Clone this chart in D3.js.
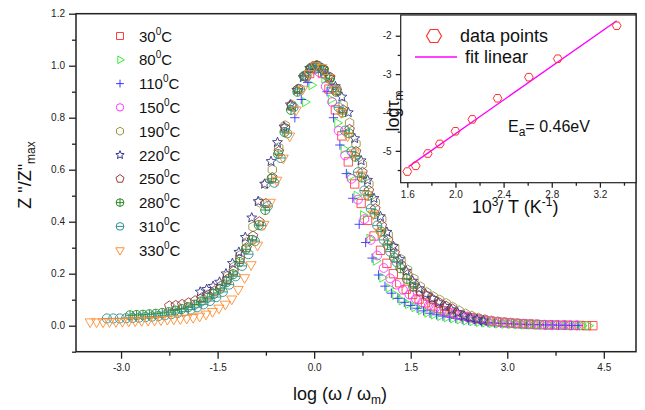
<!DOCTYPE html>
<html>
<head>
<meta charset="utf-8">
<script src="https://cdn.jsdelivr.net/npm/d3@7"></script>
<style>
  body { margin: 0; background: #fff; }
  svg { font-family: "Liberation Sans", Arial, sans-serif; }
</style>
</head>
<body>
<svg id="chart" width="645" height="410"></svg>
<script>
// legend labels (temperature in degC)
const temps = ['30', '80', '110', '150', '190', '220', '250', '280', '310', '330'];

// Z''/Z''max vs log(w/wm), one array per temperature: [x, y]
const s30 = [[-0.07,0.97],[0.03,1.0],[0.13,0.97],[0.23,0.91],[0.33,0.83],[0.43,0.73],[0.53,0.63],[0.63,0.545],[0.73,0.47],[0.83,0.405],[0.93,0.345],[1.03,0.29],[1.13,0.24],[1.23,0.2],[1.33,0.165],[1.43,0.14],[1.53,0.12],[1.63,0.102],[1.73,0.088],[1.83,0.076],[1.93,0.066],[2.03,0.057],[2.13,0.049],[2.23,0.042],[2.33,0.036],[2.43,0.031],[2.53,0.026],[2.63,0.022],[2.73,0.018],[2.83,0.015],[2.93,0.013],[3.03,0.011],[3.13,0.009],[3.23,0.008],[3.33,0.006],[3.43,0.005],[3.53,0.004],[3.63,0.003],[3.73,0.003],[3.83,0.002],[3.93,0.002],[4.03,0.001],[4.13,0.001],[4.23,0.0],[4.33,0.0]];
const s80 = [[-0.14,0.86],[-0.04,0.925],[0.06,0.985],[0.16,0.95],[0.26,0.87],[0.36,0.78],[0.46,0.68],[0.56,0.575],[0.66,0.5],[0.76,0.425],[0.86,0.335],[0.96,0.25],[1.06,0.185],[1.16,0.145],[1.26,0.118],[1.36,0.097],[1.46,0.083],[1.56,0.071],[1.66,0.06],[1.76,0.05],[1.86,0.043],[1.96,0.037],[2.06,0.032],[2.16,0.028],[2.26,0.024],[2.36,0.02],[2.46,0.017],[2.56,0.014],[2.66,0.012],[2.76,0.01],[2.86,0.008],[2.96,0.007],[3.06,0.006],[3.16,0.005],[3.26,0.004],[3.36,0.004],[3.46,0.003],[3.56,0.003],[3.66,0.002],[3.76,0.002],[3.86,0.001],[3.96,0.001],[4.06,0.001],[4.16,0.0],[4.26,0.0]];
const s110 = [[-0.3,0.8],[-0.2,0.87],[-0.1,0.935],[0.0,0.985],[0.1,0.975],[0.2,0.9],[0.3,0.8],[0.4,0.695],[0.5,0.585],[0.6,0.49],[0.7,0.39],[0.8,0.32],[0.9,0.26],[1.0,0.195],[1.1,0.152],[1.2,0.125],[1.3,0.105],[1.4,0.09],[1.5,0.078],[1.6,0.067],[1.7,0.057],[1.8,0.048],[1.9,0.042],[2.0,0.037],[2.1,0.033],[2.2,0.028],[2.3,0.024],[2.4,0.02],[2.5,0.017],[2.6,0.014],[2.7,0.012],[2.8,0.01],[2.9,0.009],[3.0,0.008],[3.1,0.007],[3.2,0.006],[3.3,0.005],[3.4,0.004],[3.5,0.004],[3.6,0.003],[3.7,0.003],[3.8,0.002],[3.9,0.002],[4.0,0.001],[4.1,0.001]];
const s150 = [[-0.12,0.955],[-0.02,0.99],[0.08,0.975],[0.18,0.92],[0.28,0.86],[0.38,0.75],[0.48,0.655],[0.58,0.565],[0.68,0.485],[0.78,0.41],[0.88,0.33],[0.98,0.27],[1.08,0.222],[1.18,0.182],[1.28,0.158],[1.38,0.138],[1.48,0.12],[1.58,0.104],[1.68,0.09],[1.78,0.078],[1.88,0.069],[1.98,0.06],[2.08,0.052],[2.18,0.045],[2.28,0.039],[2.38,0.033],[2.48,0.028],[2.58,0.024],[2.68,0.02],[2.78,0.017],[2.88,0.014],[2.98,0.012],[3.08,0.01],[3.18,0.008],[3.28,0.007],[3.38,0.006],[3.48,0.005],[3.58,0.004],[3.68,0.003],[3.78,0.002],[3.88,0.002],[3.98,0.001],[4.08,0.001]];
const s190 = [[-1.35,0.19],[-1.25,0.225],[-1.15,0.27],[-1.05,0.32],[-0.95,0.38],[-0.85,0.475],[-0.75,0.545],[-0.65,0.6],[-0.55,0.685],[-0.45,0.77],[-0.35,0.85],[-0.25,0.91],[-0.15,0.96],[-0.05,0.99],[0.05,1.0],[0.15,0.985],[0.25,0.955],[0.35,0.91],[0.45,0.85],[0.55,0.78],[0.65,0.7],[0.75,0.62],[0.85,0.545],[0.95,0.475],[1.05,0.41],[1.15,0.35],[1.25,0.3],[1.35,0.255],[1.45,0.215],[1.55,0.18],[1.65,0.15],[1.75,0.128],[1.85,0.112],[1.95,0.099],[2.05,0.086],[2.15,0.072],[2.25,0.058],[2.35,0.046],[2.45,0.037],[2.55,0.03],[2.65,0.024],[2.75,0.019],[2.85,0.016],[2.95,0.013],[3.05,0.011],[3.15,0.009],[3.25,0.007],[3.35,0.006],[3.45,0.005]];
const s220 = [[-1.77,0.13],[-1.67,0.14],[-1.57,0.152],[-1.47,0.168],[-1.37,0.2],[-1.27,0.24],[-1.17,0.283],[-1.07,0.34],[-0.97,0.415],[-0.87,0.478],[-0.77,0.545],[-0.67,0.632],[-0.57,0.705],[-0.47,0.765],[-0.37,0.85],[-0.27,0.906],[-0.17,0.955],[-0.07,0.99],[0.03,1.0],[0.13,0.99],[0.23,0.955],[0.33,0.92],[0.43,0.88],[0.53,0.82],[0.63,0.72],[0.73,0.635],[0.83,0.56],[0.93,0.49],[1.03,0.42],[1.13,0.36],[1.23,0.305],[1.33,0.255],[1.43,0.21],[1.53,0.172],[1.63,0.143],[1.73,0.122],[1.83,0.105],[1.93,0.089],[2.03,0.075],[2.13,0.062],[2.23,0.05],[2.33,0.038],[2.43,0.03],[2.53,0.024],[2.63,0.019]];
const s250 = [[-2.25,0.076],[-2.15,0.078],[-2.05,0.082],[-1.95,0.088],[-1.85,0.096],[-1.75,0.106],[-1.65,0.118],[-1.55,0.133],[-1.45,0.152],[-1.35,0.178],[-1.25,0.21],[-1.15,0.255],[-1.05,0.3],[-0.95,0.345],[-0.85,0.4],[-0.75,0.47],[-0.65,0.57],[-0.55,0.67],[-0.45,0.76],[-0.35,0.845],[-0.25,0.91],[-0.15,0.96],[-0.05,0.99],[0.05,1.0],[0.15,0.985],[0.25,0.955],[0.35,0.905],[0.45,0.83],[0.55,0.755],[0.65,0.67],[0.75,0.59],[0.85,0.52],[0.95,0.45],[1.05,0.385],[1.15,0.33],[1.25,0.28],[1.35,0.235],[1.45,0.195],[1.55,0.16],[1.65,0.13],[1.75,0.114],[1.85,0.1],[1.95,0.087],[2.05,0.075],[2.15,0.064]];
const s280 = [[-2.86,0.04],[-2.76,0.041],[-2.66,0.042],[-2.56,0.044],[-2.46,0.046],[-2.36,0.049],[-2.26,0.052],[-2.16,0.058],[-2.06,0.064],[-1.96,0.071],[-1.86,0.081],[-1.76,0.093],[-1.66,0.107],[-1.56,0.122],[-1.46,0.142],[-1.36,0.168],[-1.26,0.198],[-1.16,0.245],[-1.06,0.294],[-0.96,0.33],[-0.86,0.387],[-0.76,0.445],[-0.66,0.565],[-0.56,0.66],[-0.46,0.745],[-0.36,0.83],[-0.26,0.9],[-0.16,0.96],[-0.06,0.99],[0.04,1.0],[0.14,0.985],[0.24,0.95],[0.34,0.9],[0.44,0.82],[0.54,0.74],[0.64,0.65],[0.74,0.57],[0.84,0.5],[0.94,0.43],[1.04,0.362],[1.14,0.31],[1.24,0.262],[1.34,0.221],[1.44,0.18],[1.54,0.15]];
const s310 = [[-3.22,0.028],[-3.12,0.028],[-3.02,0.028],[-2.92,0.029],[-2.82,0.03],[-2.72,0.031],[-2.62,0.033],[-2.52,0.035],[-2.42,0.037],[-2.32,0.04],[-2.22,0.044],[-2.12,0.049],[-2.02,0.055],[-1.92,0.062],[-1.82,0.071],[-1.72,0.082],[-1.62,0.095],[-1.52,0.11],[-1.42,0.13],[-1.32,0.158],[-1.22,0.19],[-1.12,0.23],[-1.02,0.275],[-0.92,0.325],[-0.82,0.385],[-0.72,0.46],[-0.62,0.55],[-0.52,0.645],[-0.42,0.74],[-0.32,0.84],[-0.22,0.91],[-0.12,0.96],[-0.02,0.995],[0.08,0.995],[0.18,0.965],[0.28,0.915],[0.38,0.84],[0.48,0.75],[0.58,0.67],[0.68,0.59],[0.78,0.52],[0.88,0.45],[0.98,0.385],[1.08,0.33],[1.18,0.285],[1.28,0.245]];
const s330 = [[-3.48,0.015],[-3.38,0.015],[-3.28,0.015],[-3.18,0.016],[-3.08,0.016],[-2.98,0.017],[-2.88,0.018],[-2.78,0.019],[-2.68,0.02],[-2.58,0.021],[-2.48,0.022],[-2.38,0.023],[-2.28,0.025],[-2.18,0.026],[-2.08,0.027],[-1.98,0.029],[-1.88,0.032],[-1.78,0.037],[-1.68,0.045],[-1.58,0.055],[-1.48,0.068],[-1.38,0.083],[-1.28,0.103],[-1.18,0.14],[-1.08,0.185],[-0.98,0.235],[-0.88,0.31],[-0.78,0.39],[-0.68,0.475],[-0.58,0.56],[-0.48,0.645],[-0.38,0.73],[-0.28,0.83],[-0.18,0.91],[-0.08,0.97],[0.02,1.0],[0.12,0.993],[0.22,0.955],[0.32,0.91],[0.42,0.82],[0.52,0.73],[0.62,0.665],[0.72,0.58],[0.82,0.505],[0.92,0.43],[1.02,0.36]];

// inset: log(tau_m) vs 1000/T
const invT = [1.60, 1.67, 1.77, 1.87, 2.00, 2.14, 2.35, 2.61, 2.85, 3.34];
const logTau = [-5.54, -5.39, -5.07, -4.82, -4.49, -4.18, -3.63, -3.08, -2.60, -1.74];
const fitX = [1.61, 3.34];
const fitY = [-5.41, -1.61];

const xTicks = [-3.0, -1.5, 0.0, 1.5, 3.0, 4.5];
const xMinor = [-2.25, -0.75, 0.75, 2.25, 3.75];
const yTicks = [0.0, 0.2, 0.4, 0.6, 0.8, 1.0, 1.2];
const yMinor = [-0.1, 0.1, 0.3, 0.5, 0.7, 0.9, 1.1];
const inXTicks = [1.6, 2.0, 2.4, 2.8, 3.2];
const inXMinor = [1.8, 2.2, 2.6, 3.0, 3.4];
const inYTicks = [-5, -4, -3, -2];
const inYMinor = [-5.5, -4.5, -3.5, -2.5];

// custom open symbols, size = r^2
function poly(n, start, radii) {
  return {
    draw(ctx, size) {
      const r = Math.sqrt(size);
      for (let i = 0; i < n; i++) {
        const a = start + (i * 2 * Math.PI) / n;
        const rr = r * radii[i % radii.length];
        const px = rr * Math.cos(a), py = rr * Math.sin(a);
        if (i === 0) ctx.moveTo(px, py); else ctx.lineTo(px, py);
      }
      ctx.closePath();
    }
  };
}
const symSquare = { draw(ctx, size) { const a = Math.sqrt(size) * 0.8; ctx.rect(-a, -a, 2 * a, 2 * a); } };
const symCircle = { draw(ctx, size) { const r = Math.sqrt(size) * 0.85; ctx.moveTo(r, 0); ctx.arc(0, 0, r, 0, 2 * Math.PI); } };
const symPlus = { draw(ctx, size) { const a = Math.sqrt(size) * 0.9; ctx.moveTo(-a, 0); ctx.lineTo(a, 0); ctx.moveTo(0, -a); ctx.lineTo(0, a); } };
const symCirclePlus = { draw(ctx, size) { const r = Math.sqrt(size) * 0.88; ctx.moveTo(r, 0); ctx.arc(0, 0, r, 0, 2 * Math.PI); ctx.moveTo(-r, 0); ctx.lineTo(r, 0); ctx.moveTo(0, -r); ctx.lineTo(0, r); } };
const symCircleMinus = { draw(ctx, size) { const r = Math.sqrt(size) * 0.88; ctx.moveTo(r, 0); ctx.arc(0, 0, r, 0, 2 * Math.PI); ctx.moveTo(-r, 0); ctx.lineTo(r, 0); } };
const symTriRight = poly(3, 0, [1.0]);
const symTriDown = poly(3, Math.PI / 2, [1.12]);
const symHexagon = poly(6, -Math.PI / 2, [0.93]);
const symPentagon = poly(5, -Math.PI / 2, [0.97]);
const symStar = poly(10, -Math.PI / 2, [1.0, 0.45]);
const symHexFlat = poly(6, 0, [1.0]);

const series = [
  { data: s30, color: '#ff4040', type: symSquare },
  { data: s80, color: '#30ee30', type: symTriRight },
  { data: s110, color: '#3535ff', type: symPlus },
  { data: s150, color: '#ff35ff', type: symCircle },
  { data: s190, color: '#969640', type: symHexagon },
  { data: s220, color: '#33338f', type: symStar },
  { data: s250, color: '#9a3a3a', type: symPentagon },
  { data: s280, color: '#2a8a2a', type: symCirclePlus },
  { data: s310, color: '#2f9090', type: symCircleMinus },
  { data: s330, color: '#ff8c30', type: symTriDown },
];

const svg = d3.select('#chart');
const ink = '#222';

const xMain = d3.scaleLinear().domain([-3.7, 5.0]).range([76, 636]);
const yMain = d3.scaleLinear().domain([-0.1, 1.2]).range([351.7, 13.7]);

function styleAxis(g) {
  g.select('.domain').remove();
  g.selectAll('.tick line').attr('stroke', ink).attr('stroke-width', 1.3);
  g.selectAll('.tick text').attr('fill', '#222');
}

// main axes
svg.append('g')
  .attr('transform', `translate(0,${yMain.range()[0]})`)
  .attr('font-size', 13)
  .call(d3.axisBottom(xMain).tickValues(xTicks).tickSize(7).tickPadding(5).tickFormat((d) => d.toFixed(1)))
  .call(styleAxis);
svg.append('g')
  .attr('transform', `translate(0,${yMain.range()[0]})`)
  .call(d3.axisBottom(xMain).tickValues(xMinor).tickSize(4).tickFormat(''))
  .call(styleAxis);
svg.append('g')
  .attr('transform', `translate(${xMain.range()[0]},0)`)
  .attr('font-size', 13)
  .call(d3.axisLeft(yMain).tickValues(yTicks).tickSize(7).tickPadding(4).tickFormat((d) => d.toFixed(1)))
  .call(styleAxis);
svg.append('g')
  .attr('transform', `translate(${xMain.range()[0]},0)`)
  .call(d3.axisLeft(yMain).tickValues(yMinor).tickSize(4).tickFormat(''))
  .call(styleAxis);

// data
const symbol = d3.symbol();
series.forEach((s) => {
  svg.append('g')
    .selectAll('path')
    .data(s.data)
    .join('path')
    .attr('transform', (d) => `translate(${xMain(d[0])},${yMain(d[1])})`)
    .attr('d', symbol.type(s.type).size(27)())
    .attr('fill', 'none')
    .attr('stroke', s.color)
    .attr('stroke-width', 0.9);
});

svg.append('rect')
  .attr('x', xMain.range()[0]).attr('y', yMain.range()[1])
  .attr('width', xMain.range()[1] - xMain.range()[0])
  .attr('height', yMain.range()[0] - yMain.range()[1])
  .attr('fill', 'none').attr('stroke', ink).attr('stroke-width', 1.5);

// legend
const legend = svg.append('g');
series.forEach((s, i) => {
  const ly = 36 + i * 23.8;
  legend.append('path')
    .attr('transform', `translate(120,${ly})`)
    .attr('d', d3.symbol().type(s.type).size(19)())
    .attr('fill', 'none').attr('stroke', s.color).attr('stroke-width', 1);
  const t = legend.append('text').attr('x', 139).attr('y', ly + 5.5).attr('font-size', 15).attr('fill', '#111');
  t.append('tspan').text(temps[i]);
  t.append('tspan').attr('font-size', 10).attr('dy', -7).text('0');
  t.append('tspan').attr('dy', 7).text('C');
});

// axis titles
const xt = svg.append('text').attr('x', 340).attr('y', 400).attr('text-anchor', 'middle').attr('font-size', 18).attr('fill', '#111');
xt.append('tspan').text('log (\u03c9 / \u03c9');
xt.append('tspan').attr('font-size', 12).attr('dy', 4).text('m');
xt.append('tspan').attr('dy', -4).text(')');

const yt = svg.append('text').attr('transform', 'translate(31,175) rotate(-90)').attr('text-anchor', 'middle').attr('font-size', 18).attr('fill', '#111');
yt.append('tspan').text('Z "/Z"');
yt.append('tspan').attr('font-size', 12).attr('dy', 4).text('max');

// inset
const xIn = d3.scaleLinear().domain([1.545, 3.5]).range([400.7, 636]);
const yIn = d3.scaleLinear().domain([-5.83, -1.46]).range([182.7, 15]);

svg.append('rect')
  .attr('x', xIn.range()[0]).attr('y', yIn.range()[1])
  .attr('width', xIn.range()[1] - xIn.range()[0])
  .attr('height', yIn.range()[0] - yIn.range()[1])
  .attr('fill', '#fff');

svg.append('g')
  .attr('transform', `translate(0,${yIn.range()[0]})`)
  .attr('font-size', 12)
  .call(d3.axisBottom(xIn).tickValues(inXTicks).tickSize(5).tickPadding(3).tickFormat((d) => d.toFixed(1)))
  .call(styleAxis);
svg.append('g')
  .attr('transform', `translate(0,${yIn.range()[0]})`)
  .call(d3.axisBottom(xIn).tickValues(inXMinor).tickSize(3).tickFormat(''))
  .call(styleAxis);
svg.append('g')
  .attr('transform', `translate(${xIn.range()[0]},0)`)
  .attr('font-size', 12)
  .call(d3.axisLeft(yIn).tickValues(inYTicks).tickSize(5).tickPadding(4).tickFormat((d) => String(d)))
  .call(styleAxis);
svg.append('g')
  .attr('transform', `translate(${xIn.range()[0]},0)`)
  .call(d3.axisLeft(yIn).tickValues(inYMinor).tickSize(3).tickFormat(''))
  .call(styleAxis);

svg.append('path')
  .datum(fitX.map((x, i) => [x, fitY[i]]))
  .attr('d', d3.line().x((d) => xIn(d[0])).y((d) => yIn(d[1])))
  .attr('fill', 'none').attr('stroke', '#ff00ff').attr('stroke-width', 1.4);

svg.append('g')
  .selectAll('path')
  .data(invT.map((x, i) => [x, logTau[i]]))
  .join('path')
  .attr('transform', (d) => `translate(${xIn(d[0])},${yIn(d[1])})`)
  .attr('d', d3.symbol().type(symHexFlat).size(19)())
  .attr('fill', 'none').attr('stroke', '#ff3030').attr('stroke-width', 1);

svg.append('rect')
  .attr('x', xIn.range()[0]).attr('y', yIn.range()[1])
  .attr('width', xIn.range()[1] - xIn.range()[0])
  .attr('height', yIn.range()[0] - yIn.range()[1])
  .attr('fill', 'none').attr('stroke', ink).attr('stroke-width', 1.2);

// inset legend
svg.append('path')
  .attr('transform', 'translate(434,36)')
  .attr('d', d3.symbol().type(symHexFlat).size(56)())
  .attr('fill', 'none').attr('stroke', '#ff3030').attr('stroke-width', 1.2);
svg.append('text').attr('x', 460).attr('y', 42).attr('font-size', 18).attr('fill', '#111').text('data points');
svg.append('line').attr('x1', 415).attr('x2', 457).attr('y1', 57).attr('y2', 57)
  .attr('stroke', '#ff00ff').attr('stroke-width', 1.4);
svg.append('text').attr('x', 465).attr('y', 63).attr('font-size', 18).attr('fill', '#111').text('fit linear');

const ea = svg.append('text').attr('x', 508).attr('y', 132).attr('font-size', 16).attr('fill', '#111');
ea.append('tspan').text('E');
ea.append('tspan').attr('font-size', 12).attr('dy', 4).text('a');
ea.append('tspan').attr('dy', -4).text('= 0.46eV');

const ixt = svg.append('text').attr('x', 515).attr('y', 213).attr('text-anchor', 'middle').attr('font-size', 18).attr('fill', '#111');
ixt.append('tspan').text('10');
ixt.append('tspan').attr('font-size', 12).attr('dy', -7).text('3');
ixt.append('tspan').attr('dy', 7).text('/ T (K');
ixt.append('tspan').attr('font-size', 12).attr('dy', -7).text('-1');
ixt.append('tspan').attr('dy', 7).text(')');

const iyt = svg.append('text').attr('transform', 'translate(399,111) rotate(-90)').attr('text-anchor', 'middle').attr('font-size', 18).attr('fill', '#111');
iyt.append('tspan').text('log\u03c4');
iyt.append('tspan').attr('font-size', 12).attr('dy', 4).text('m');
</script>
</body>
</html>
